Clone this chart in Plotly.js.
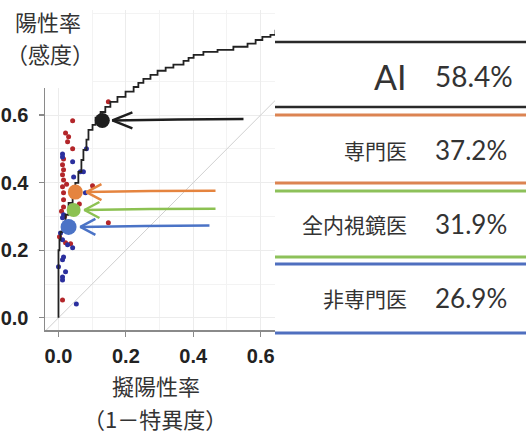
<!DOCTYPE html>
<html>
<head>
<meta charset="utf-8">
<script src="https://cdn.plot.ly/plotly-3.0.1.min.js"></script>
<style>html,body{margin:0;padding:0;background:#fff;}#chart{width:526px;height:439px;}</style>
</head>
<body>
<div id="chart"></div>
<script>
// ---- data ----
const categories = ['AI', '専門医', '全内視鏡医', '非専門医'];
const sensitivity = [58.4, 37.2, 31.9, 26.9];
const groupFpr = [0.13, 0.05, 0.045, 0.03];
const groupColors = ['#1e1e1e', '#e5843f', '#8cc152', '#4b73c6'];
const lineColors = ['#2a2a2a', '#dc8452', '#8dc15a', '#4f6fbf'];

const rocFpr = [0, 0, 0.003, 0.006, 0.012, 0.021, 0.030, 0.042, 0.050, 0.059, 0.068, 0.074, 0.083, 0.089, 0.101, 0.110, 0.125, 0.139, 0.154, 0.175, 0.199, 0.223, 0.237, 0.252, 0.273, 0.294, 0.318, 0.341, 0.371, 0.386, 0.401, 0.430, 0.472, 0.519, 0.561, 0.585, 0.605, 0.629, 0.644, 0.70];
const rocTpr = [0, 0.053, 0.200, 0.231, 0.254, 0.269, 0.305, 0.340, 0.370, 0.399, 0.432, 0.467, 0.497, 0.527, 0.556, 0.571, 0.592, 0.609, 0.624, 0.639, 0.654, 0.669, 0.683, 0.695, 0.707, 0.719, 0.731, 0.740, 0.749, 0.760, 0.769, 0.778, 0.787, 0.793, 0.802, 0.811, 0.822, 0.831, 0.837, 0.85];

const redFpr = [0.148, 0.042, 0.021, 0.030, 0.027, 0.042, 0.015, 0.012, 0.015, 0.012, 0.015, 0.101, 0.012, 0.015, 0.015, 0.015, 0.062, 0.148, 0.003, 0.021, 0.036, 0.012, 0.009, 0.018, 0.024];
const redTpr = [0.639, 0.583, 0.547, 0.536, 0.521, 0.500, 0.470, 0.453, 0.438, 0.423, 0.408, 0.391, 0.388, 0.370, 0.349, 0.328, 0.337, 0.281, 0.240, 0.222, 0.219, 0.053, 0.315, 0.300, 0.395];
const blueFpr = [0.083, 0.012, 0.012, 0.042, 0.065, 0.074, 0.045, 0.080, 0.015, 0.012, 0.027, 0.006, 0.012, 0.027, 0.042, 0.015, 0.012, 0.000, 0.021, 0.012, 0.012, 0.053];
const blueTpr = [0.500, 0.485, 0.476, 0.462, 0.432, 0.432, 0.417, 0.370, 0.305, 0.296, 0.269, 0.251, 0.231, 0.216, 0.207, 0.180, 0.172, 0.151, 0.136, 0.121, 0.112, 0.041];

const xTickVals = [0, 0.2, 0.4, 0.6];
const xTickText = ['0.0', '0.2', '0.4', '0.6'];
const yTickVals = [0, 0.2, 0.4, 0.6];
const yTickText = ['0.0', '0.2', '0.4', '0.6'];
const minorVals = [0.1, 0.3, 0.5, 0.7, 0.9, 1.1, 1.3];

// arrow tails (x, data units)
const arrowTailX = [0.549, 0.466, 0.466, 0.448];

// ---- geometry helpers (pixel -> paper) ----
const W = 526, H = 439, ML = 45, MR = 0, MT = 10, MB = 109;
const PW = W - ML - MR, PH = H - MT - MB;
const XS = 337, YS = 338; // px per data unit
const px = x => (x - ML) / PW;
const py = y => (H - MB - y) / PH;

const traces = [];
traces.push({x: [-0.04, 1.4], y: [-0.04, 1.4], mode: 'lines', line: {color: '#d0d0d0', width: 1}, hoverinfo: 'skip'});
traces.push({x: redFpr, y: redTpr, mode: 'markers', marker: {color: '#b3262a', size: 5, opacity: 1}});
traces.push({x: blueFpr, y: blueTpr, mode: 'markers', marker: {color: '#2b2f9e', size: 5, opacity: 1}});
traces.push({x: rocFpr, y: rocTpr, mode: 'lines', line: {color: '#222', width: 1.8, shape: 'vh'}});
traces.push({x: groupFpr, y: sensitivity.map(v => v / 100), mode: 'markers',
  marker: {color: groupColors, size: [15, 15, 14, 16], opacity: 1, line: {width: 0}}});

// arrows: shaft + open chevron head, anchored on each group's point
const arrowOffset = [0.03, 0.033, 0.032, 0.035];
const barbLen = [20, 15, 15, 15];
const barbH = [8, 8, 8, 8];
categories.forEach((c, i) => {
  const yv = sensitivity[i] / 100;
  const tipX = groupFpr[i] + arrowOffset[i];
  traces.push({x: [arrowTailX[i], (arrowTailX[i] + tipX) / 2, tipX], y: [yv + 0.004, yv + 0.003, yv],
    mode: 'lines', line: {color: groupColors[i], width: 2.5, shape: 'spline'}});
  const bx = tipX + barbLen[i] / XS, by = barbH[i] / YS;
  traces.push({x: [bx, tipX, bx], y: [yv + by, yv, yv - by],
    mode: 'lines', line: {color: groupColors[i], width: 2.5}});
});

const shapes = [];
const annotations = [];

// white overlays
shapes.push({type: 'rect', xref: 'paper', yref: 'paper', x0: px(275), x1: px(530), y0: py(445), y1: py(-5),
  fillcolor: '#fff', line: {width: 0}, layer: 'above'});
shapes.push({type: 'rect', xref: 'paper', yref: 'paper', x0: px(-5), x1: px(92), y0: py(88), y1: py(-5),
  fillcolor: '#fff', line: {width: 0}, layer: 'above'});

// table lines
const hl = (y, color, w) => shapes.push({type: 'line', xref: 'paper', yref: 'paper', x0: px(275), x1: px(526),
  y0: py(y), y1: py(y), line: {color: color, width: w}, layer: 'above'});
hl(42, lineColors[0], 2.5);
hl(107, lineColors[0], 2.5); hl(115, lineColors[1], 3);
hl(183, lineColors[1], 3); hl(191, lineColors[2], 3);
hl(257, lineColors[2], 3); hl(264, lineColors[3], 3);
hl(333, lineColors[3], 3);

const rowY = [76, 150, 224, 298];
categories.forEach((c, i) => {
  const big = i === 0;
  annotations.push({xref: 'paper', yref: 'paper', x: px(409), y: py(rowY[i]), xanchor: 'right', yanchor: 'middle',
    text: c, showarrow: false,
    font: big ? {family: 'Lato, "Noto Sans", sans-serif', size: 34, color: '#333'} :
                {family: '"Noto Sans CJK JP", sans-serif', size: 21, color: '#333'}});
  annotations.push({xref: 'paper', yref: 'paper', x: px(433), y: py(rowY[i]), xanchor: 'left', yanchor: 'middle',
    text: sensitivity[i].toFixed(1) + '%', showarrow: false,
    font: {family: 'Lato, "Noto Sans", sans-serif', size: big ? 28 : 26, color: '#333'}});
});

// axis titles
const tfont = {family: '"Noto Sans CJK JP", sans-serif', size: 22, color: '#333'};
annotations.push({xref: 'paper', yref: 'paper', x: px(48), y: py(21), text: '陽性率', showarrow: false, font: tfont, xanchor: 'center', yanchor: 'middle'});
annotations.push({xref: 'paper', yref: 'paper', x: px(50), y: py(53), text: '（感度）', showarrow: false, font: tfont, xanchor: 'center', yanchor: 'middle'});
annotations.push({xref: 'paper', yref: 'paper', x: px(156), y: py(385), text: '擬陽性率', showarrow: false, font: tfont, xanchor: 'center', yanchor: 'middle'});
annotations.push({xref: 'paper', yref: 'paper', x: px(155), y: py(418), text: '（1－特異度）', showarrow: false, font: tfont, xanchor: 'center', yanchor: 'middle'});

const tickfont = {family: '"Liberation Sans", Arial, sans-serif', size: 20, color: '#222', weight: 'bold'};
const layout = {
  width: W, height: H,
  margin: {l: ML, r: MR, t: MT, b: MB, pad: 0},
  paper_bgcolor: '#fff', plot_bgcolor: '#fff',
  showlegend: false,
  xaxis: {range: [-0.04, -0.04 + PW / XS], tickvals: xTickVals, ticktext: xTickText, ticks: 'outside', ticklen: 5,
    tickcolor: '#8a8a8a', tickwidth: 1.2, showline: true, linecolor: '#8a8a8a', linewidth: 1.5, zeroline: false,
    showgrid: true, gridcolor: '#ececec', tickfont: tickfont, ticklabelstandoff: 2,
    minor: {tickvals: minorVals, showgrid: true, gridcolor: '#f3f3f3', ticks: ''}},
  yaxis: {range: [-0.036, -0.036 + PH / YS], tickvals: yTickVals, ticktext: yTickText, ticks: 'outside', ticklen: 5,
    tickcolor: '#8a8a8a', tickwidth: 1.2, showline: true, linecolor: '#8a8a8a', linewidth: 1.5, zeroline: false,
    showgrid: true, gridcolor: '#ececec', tickfont: tickfont, ticklabelstandoff: 6,
    minor: {tickvals: minorVals, showgrid: true, gridcolor: '#f3f3f3', ticks: ''}},
  shapes: shapes,
  annotations: annotations
};
Plotly.newPlot('chart', traces, layout, {staticPlot: true, displayModeBar: false});
</script>
</body>
</html>
